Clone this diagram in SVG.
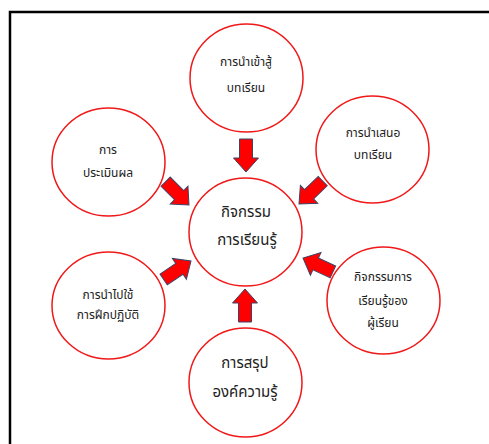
<svg xmlns="http://www.w3.org/2000/svg" width="489" height="444" viewBox="0 0 489 444">
<style>
.c{fill:#fff;stroke:#f01818;stroke-width:1.5}
.t{font-family:"Noto Sans Thai","Noto Sans","DejaVu Sans",sans-serif;font-size:12px;fill:#222;text-anchor:middle}
.tl{font-size:15px}
.a{fill:#ff0000;stroke:#3c4466;stroke-width:1;stroke-linejoin:miter}
</style>
<defs>
<path id="arr" d="M-33,-6.5 L-14,-6.5 L-14,-12.5 L0,0 L-14,12.5 L-14,6.5 L-33,6.5 Z"/>
</defs>
<rect width="489" height="444" fill="#fff"/>
<path d="M10,444 L10,12 L489,12" fill="none" stroke="#000" stroke-width="2.5"/>
<g id="connectors">
<use href="#arr" class="a" transform="translate(246,172) rotate(90)"/>
<use href="#arr" class="a" transform="translate(245,289) rotate(-90)"/>
<use href="#arr" class="a" transform="translate(189,205) rotate(45)"/>
<use href="#arr" class="a" transform="translate(299,204) rotate(136)"/>
<use href="#arr" class="a" transform="translate(191,261) rotate(-34)"/>
<use href="#arr" class="a" transform="translate(303,258) rotate(205)"/>
</g>
<g id="center">
<ellipse class="c" cx="245.5" cy="232" rx="56.5" ry="54"/>
<text class="t tl" x="246" y="217">กิจกรรม</text>
<text class="t tl" x="247" y="245">การเรียนรู้</text>
</g>
<g id="intro">
<ellipse class="c" cx="246.5" cy="78" rx="56.5" ry="54"/>
<text class="t" x="246" y="66">การนำเข้าสู้</text>
<text class="t" x="246" y="92">บทเรียน</text>
</g>
<g id="present">
<ellipse class="c" cx="372.5" cy="149.5" rx="56.5" ry="53.5"/>
<text class="t" x="373" y="137">การนำเสนอ</text>
<text class="t" x="373" y="159">บทเรียน</text>
</g>
<g id="evaluate">
<ellipse class="c" cx="108.5" cy="162" rx="56.5" ry="54"/>
<text class="t" x="108" y="154">การ</text>
<text class="t" x="108" y="177">ประเมินผล</text>
</g>
<g id="apply">
<ellipse class="c" cx="108.5" cy="305.5" rx="56.5" ry="53.5"/>
<text class="t" x="108" y="299">การนำไปใช้</text>
<text class="t" x="108" y="319">การฝึกปฏิบัติ</text>
</g>
<g id="activity">
<ellipse class="c" cx="383.5" cy="300.5" rx="56.5" ry="53.5"/>
<text class="t" x="383" y="281">กิจกรรมการ</text>
<text class="t" x="383" y="305">เรียนรู้ของ</text>
<text class="t" x="383" y="327">ผู้เรียน</text>
</g>
<g id="summary">
<ellipse class="c" cx="245.5" cy="382.5" rx="56.5" ry="54.5"/>
<text class="t tl" x="245" y="368">การสรุป</text>
<text class="t tl" x="245" y="397">องค์ความรู้</text>
</g>
</svg>
